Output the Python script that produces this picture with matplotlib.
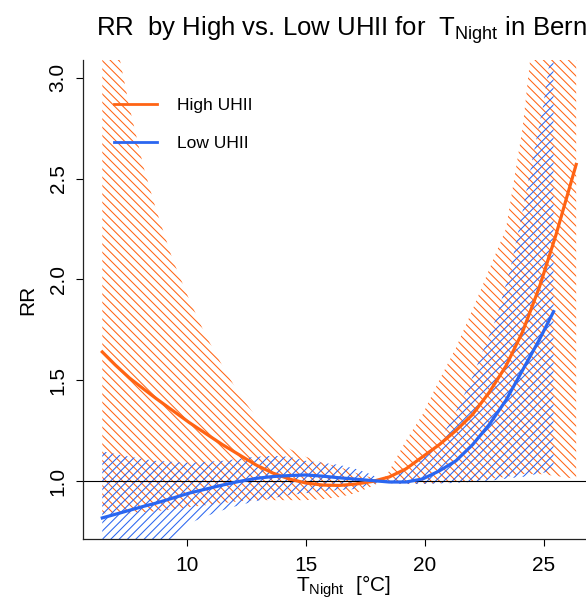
import matplotlib
matplotlib.use("Agg")
import matplotlib.pyplot as plt

# RR curves
temp_high = [6.45, 7.0, 7.6, 8.2, 8.7, 9.4, 10.1, 10.8, 11.5, 12.2, 12.9, 13.6, 14.3, 15.0,
             15.7, 16.4, 17.1, 17.8, 18.5, 19.2, 19.9, 20.6, 21.3, 22.0, 22.7, 23.4, 24.1,
             24.8, 25.5, 26.35]
rr_high = [1.64, 1.575, 1.51, 1.455, 1.41, 1.35, 1.29, 1.235, 1.18, 1.13, 1.08, 1.04, 1.01, 0.99,
           0.98, 0.978, 0.985, 0.998, 1.02, 1.06, 1.12, 1.18, 1.25, 1.33, 1.44, 1.57, 1.74,
           1.96, 2.22, 2.57]

temp_low = [6.45, 7.0, 7.6, 8.2, 8.7, 9.4, 10.1, 10.8, 11.5, 12.2, 12.9, 13.6, 14.3, 15.0,
            15.7, 16.4, 17.1, 17.8, 18.5, 19.2, 19.9, 20.6, 21.3, 22.0, 22.7, 23.4, 24.1,
            24.8, 25.4]
rr_low = [0.817, 0.835, 0.855, 0.875, 0.89, 0.915, 0.94, 0.96, 0.98, 0.998, 1.013, 1.022,
          1.027, 1.03, 1.024, 1.016, 1.009, 1.002, 0.995, 0.995, 1.01, 1.05, 1.10, 1.18,
          1.28, 1.40, 1.55, 1.70, 1.84]

# confidence bands
ci_temp_high = [6.45, 7.0, 7.6, 8.2, 8.7, 9.4, 10.1, 10.8, 11.5, 12.2, 12.9, 13.6, 14.3, 15.0,
                15.7, 16.4, 17.1, 17.8, 18.2, 18.5, 19.2, 19.9, 20.6, 21.3, 22.0, 22.7, 23.4,
                24.1, 24.8, 25.5, 26.35]
ci_high_upper = [3.9, 3.2, 2.85, 2.55, 2.35, 2.1, 1.9, 1.72, 1.57, 1.43, 1.32, 1.23, 1.16, 1.12,
                 1.09, 1.07, 1.04, 1.015, 1.0, 1.05, 1.20, 1.33, 1.50, 1.66, 1.85, 2.05, 2.25,
                 2.75, 3.5, 4.2, 5.0]
ci_high_lower = [0.84, 0.84, 0.84, 0.845, 0.85, 0.86, 0.87, 0.88, 0.89, 0.90, 0.905, 0.905,
                 0.905, 0.905, 0.91, 0.92, 0.94, 0.975, 1.0, 0.99, 0.985, 0.985, 0.99, 0.995,
                 1.0, 1.01, 1.02, 1.035, 1.035, 1.025, 1.01]

ci_temp_low = [6.45, 7.6, 8.7, 9.4, 10.1, 10.8, 11.5, 12.2, 12.9, 13.6, 14.3, 15.0, 15.7, 16.4,
               17.1, 17.8, 18.2, 18.5, 19.5, 20.35, 21.2, 21.9, 22.45, 23.0, 23.6, 24.1, 24.5,
               24.96, 25.25, 25.4]
ci_low_upper = [1.147, 1.12, 1.10, 1.095, 1.09, 1.095, 1.10, 1.11, 1.12, 1.125, 1.12, 1.10,
                1.09, 1.08, 1.06, 1.03, 1.0, 1.01, 1.09, 1.15, 1.32, 1.49, 1.65, 1.81, 2.06,
                2.34, 2.59, 2.86, 3.09, 3.3]
ci_low_lower = [0.50, 0.58, 0.66, 0.72, 0.79, 0.825, 0.855, 0.88, 0.90, 0.915, 0.93, 0.94,
                0.95, 0.955, 0.96, 0.985, 1.0, 0.99, 0.985, 0.987, 0.99, 0.995, 1.0, 1.005,
                1.015, 1.02, 1.03, 1.04, 1.05, 1.05]

series_labels = ["High UHII", "Low UHII"]
xticks = [10, 15, 20, 25]
yticks = [1.0, 1.5, 2.0, 2.5, 3.0]

ORANGE = "#FF6414"
BLUE = "#2A66F0"

plt.rcParams["font.family"] = ["Liberation Sans", "DejaVu Sans"]
plt.rcParams["mathtext.fontset"] = "custom"
plt.rcParams["mathtext.rm"] = "Liberation Sans"
plt.rcParams["mathtext.it"] = "Liberation Sans:italic"
plt.rcParams["hatch.linewidth"] = 0.75

W, H = 586, 601
fig = plt.figure(figsize=(W / 100, H / 100), dpi=100)
ax = fig.add_axes([83 / W, (H - 539) / H, (598.8 - 83) / W, (539 - 60) / H])

ax.fill_between(ci_temp_high, ci_high_lower, ci_high_upper, facecolor="none",
                edgecolor=ORANGE, hatch="\\\\\\\\", linewidth=0)
ax.fill_between(ci_temp_low, ci_low_lower, ci_low_upper, facecolor="none",
                edgecolor=BLUE, hatch="////", linewidth=0)
ax.axhline(1.0, color="black", lw=0.8)
ax.plot(temp_high, rr_high, color=ORANGE, lw=2.3, label=series_labels[0])
ax.plot(temp_low, rr_low, color=BLUE, lw=2.3, label=series_labels[1])

ax.set_xlim(5.64, 27.3)
ax.set_ylim(0.7124, 3.0878)
ax.set_xticks(xticks)
ax.set_xticklabels([str(t) for t in xticks])
ax.set_yticks(yticks)
ax.set_yticklabels([f"{t:.1f}" for t in yticks], rotation=90, va="center")
ax.tick_params(direction="out", length=5, width=0.8, labelsize=15, colors="black")
ax.tick_params(axis="x", pad=7)
ax.tick_params(axis="y", pad=6)
for s in ["top", "right"]:
    ax.spines[s].set_visible(False)
for s in ["left", "bottom"]:
    ax.spines[s].set_linewidth(0.9)
    ax.spines[s].set_color("#222222")

leg = ax.legend(loc="upper left", bbox_to_anchor=(31 / 515.8, 1 - 38 / 479), frameon=False,
                fontsize=12.5, handlelength=2.5, handletextpad=1.15, labelspacing=1.3,
                borderaxespad=0, borderpad=0)
for line in leg.get_lines():
    line.set_linewidth(2.0)

fig.text(341 / W, (H - 35.5) / H, r"RR  by High vs. Low UHII for  $\mathrm{T_{Night}}$ in Bern",
         ha="center", va="baseline", fontsize=18.5)
fig.text(343 / W, (H - 592) / H, r"$\mathrm{T_{Night}}$  [°C]", ha="center", va="baseline",
         fontsize=15)
fig.text(33 / W, (H - 300) / H, "RR", rotation=90, rotation_mode="anchor", ha="center",
         va="baseline", fontsize=15)

fig.savefig("out.png", dpi=100)
